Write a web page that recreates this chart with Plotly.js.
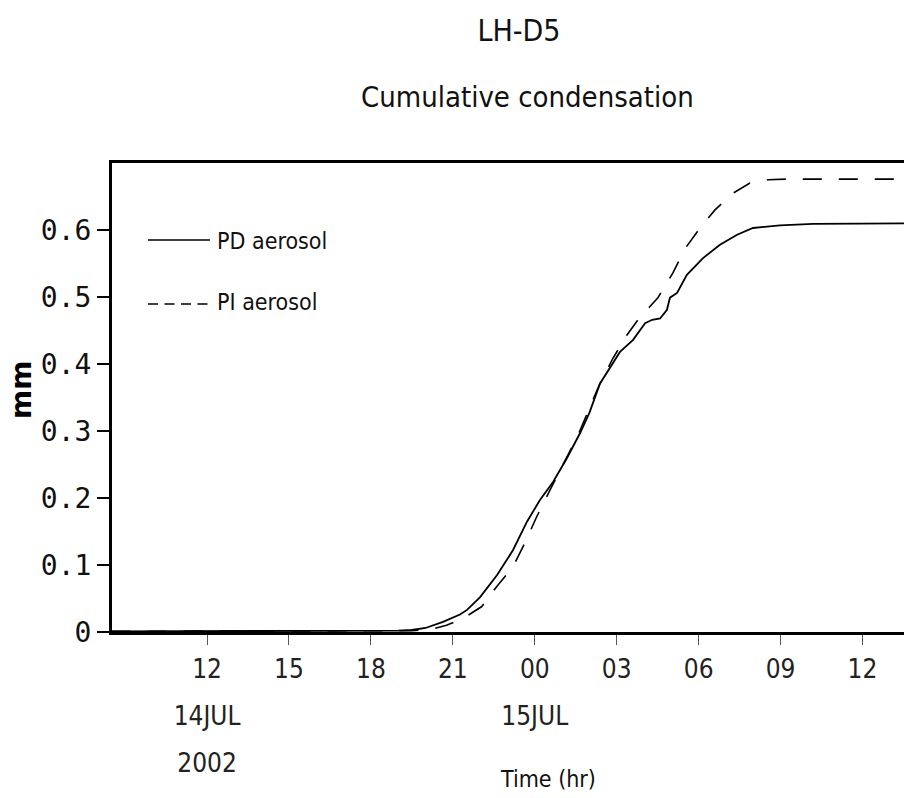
<!DOCTYPE html>
<html>
<head>
<meta charset="utf-8">
<script src="https://cdn.plot.ly/plotly-3.0.1.min.js"></script>
<style>
html,body{margin:0;padding:0;background:#fff;overflow:hidden;}
#chart{width:904px;height:798px;}
</style>
</head>
<body>
<div id="chart"></div>
<script>
// Hours since 14JUL2002 00:00
var pdTime = [8.5, 12, 15, 18, 19, 19.5, 20, 20.64, 21.26, 21.52, 22.0, 22.62, 23.2, 23.72, 24.19, 24.67, 25.17, 25.66, 26.0, 26.39, 27.12, 27.6, 28.04, 28.3, 28.59, 28.84, 28.95, 29.21, 29.57, 30.16, 30.78, 31.41, 31.99, 32.98, 34.19, 37.6];
var pdValues = [0.001, 0.001, 0.001, 0.001, 0.002, 0.003, 0.006, 0.015, 0.026, 0.033, 0.052, 0.085, 0.122, 0.165, 0.197, 0.224, 0.259, 0.297, 0.327, 0.371, 0.418, 0.436, 0.461, 0.466, 0.468, 0.481, 0.499, 0.506, 0.533, 0.558, 0.578, 0.593, 0.603, 0.607, 0.609, 0.610];

var piTime = [8.5, 12, 15, 18, 19.5, 20.2, 20.77, 21.37, 22.06, 22.61, 23.2, 23.64, 24.07, 24.56, 25.11, 25.6, 26.02, 26.4, 26.87, 27.37, 27.96, 28.2, 28.51, 29.06, 29.5, 30.05, 30.6, 31.26, 31.88, 32.54, 33.24, 37.6];
var piValues = [0.001, 0.001, 0.001, 0.001, 0.002, 0.004, 0.010, 0.020, 0.038, 0.068, 0.097, 0.133, 0.172, 0.212, 0.255, 0.295, 0.336, 0.372, 0.409, 0.443, 0.476, 0.485, 0.499, 0.536, 0.572, 0.603, 0.630, 0.655, 0.670, 0.675, 0.676, 0.676];

var seriesNames = ["PD aerosol", "PI aerosol"];
var xTickVals = [12, 15, 18, 21, 24, 27, 30, 33, 36];
var xTickLabels = ["12<br>14JUL<br>2002", "15", "18", "21", "00<br>15JUL", "03", "06", "09", "12"];
var yTickVals = [0, 0.1, 0.2, 0.3, 0.4, 0.5, 0.6];
var yTickLabels = ["0", "0.1", "0.2", "0.3", "0.4", "0.5", "0.6"];

var narrow = "'Liberation Sans Narrow', 'DejaVu Sans Condensed', sans-serif";

// smaller glyphs, but keep the wide line spacing of the tick font
function small(lbl) {
  return lbl.split("<br>").map(function (s) {
    return '<span style="font-size:26px">' + s + '</span>';
  }).join("<br>");
}

var traces = [
  {x: pdTime, y: pdValues, name: seriesNames[0], type: "scatter", mode: "lines",
   line: {color: "#000", width: 1.8}, showlegend: false},
  {x: piTime, y: piValues, name: seriesNames[1], type: "scatter", mode: "lines",
   line: {color: "#000", width: 1.6, dash: "19px,17px"}, showlegend: false}
];

var layout = {
  width: 904, height: 798,
  margin: {l: 112, r: 0, t: 163, b: 166, pad: 0},
  paper_bgcolor: "#fff", plot_bgcolor: "#fff",
  showlegend: false,
  title: {text: "LH-D5", font: {family: narrow, size: 30, color: "#111"},
          x: 519/904, xref: "container", xanchor: "center",
          y: 1 - 30/798, yref: "container", yanchor: "middle"},
  xaxis: {
    range: [8.52, 37.52], showgrid: false, zeroline: false,
    showline: true, linecolor: "#000", linewidth: 3, mirror: true,
    ticks: "outside", ticklen: 10, tickwidth: 1, tickcolor: "#555",
    tickmode: "array", tickvals: xTickVals, ticktext: xTickLabels.map(small),
    tickfont: {family: narrow, size: 36, color: "#222"},
    ticklabelstandoff: -10
  },
  yaxis: {
    range: [0, 0.7], showgrid: false, zeroline: false,
    showline: true, linecolor: "#000", linewidth: 3, mirror: false,
    ticks: "outside", ticklen: 12, tickwidth: 2, tickcolor: "#000",
    tickmode: "array", tickvals: yTickVals, ticktext: yTickLabels,
    tickfont: {family: "'DejaVu Sans Mono', monospace", size: 28, color: "#111"},
    ticklabelstandoff: 0
  },
  shapes: [
    {type: "line", xref: "paper", yref: "paper",
     x0: (148-112)/792, x1: (210-112)/792, y0: (632-240)/469, y1: (632-240)/469,
     line: {color: "#000", width: 1.6}},
    {type: "line", xref: "paper", yref: "paper",
     x0: (148-112)/792, x1: (210-112)/792, y0: (632-304)/469, y1: (632-304)/469,
     line: {color: "#000", width: 1.6, dash: "10px,6.5px"}}
  ],
  annotations: [
    {text: "Cumulative condensation", xref: "paper", yref: "paper",
     x: (527-112)/792, y: (632-97)/469, xanchor: "center", yanchor: "middle",
     showarrow: false, font: {family: narrow, size: 29, color: "#111"}},
    {text: seriesNames[0], xref: "paper", yref: "paper",
     x: (215-112)/792, y: (632-241)/469, xanchor: "left", yanchor: "middle",
     showarrow: false, font: {family: narrow, size: 23, color: "#111"}},
    {text: seriesNames[1], xref: "paper", yref: "paper",
     x: (215-112)/792, y: (632-302)/469, xanchor: "left", yanchor: "middle",
     showarrow: false, font: {family: narrow, size: 23, color: "#111"}},
    {text: "Time (hr)", xref: "paper", yref: "paper",
     x: (548-112)/792, y: (632-779)/469, xanchor: "center", yanchor: "middle",
     showarrow: false, font: {family: narrow, size: 23, color: "#111"}},
    {text: "<b>mm</b>", xref: "paper", yref: "paper",
     x: (21-112)/792, y: (632-390)/469, xanchor: "center", yanchor: "middle",
     textangle: -90, showarrow: false,
     font: {family: "'DejaVu Sans', sans-serif", size: 28, color: "#000"}}
  ]
};

Plotly.newPlot("chart", traces, layout, {displayModeBar: false, staticPlot: true});
</script>
</body>
</html>
